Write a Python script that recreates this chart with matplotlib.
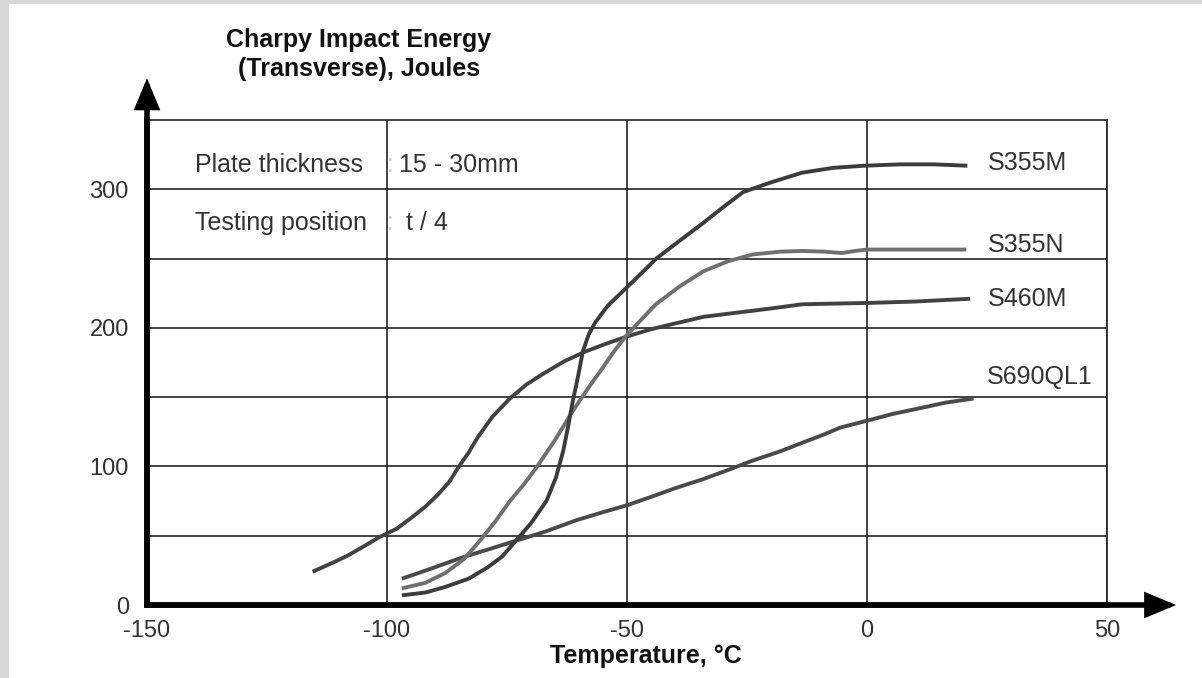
import matplotlib
matplotlib.use("Agg")
import matplotlib.pyplot as plt
from matplotlib.patches import Rectangle

plt.rcParams['font.family'] = ['Liberation Sans', 'DejaVu Sans']
plt.rcParams['axes.unicode_minus'] = False

# values (temperature degC, energy J)
s355m_t = [-96.9, -92, -87.9, -83, -79.1, -76, -73, -70, -66.8, -64.8, -63.3, -62.2, -61.3,
           -60.2, -59.2, -58, -56.6, -54, -51, -48, -43.9, -39, -34, -30, -25.8, -20, -13.5,
           -7, -0.6, 7, 14, 20.9]
s355m_e = [7, 9, 13, 19, 27, 35, 47, 59, 75, 92, 111, 130, 147, 165, 183, 195, 204, 216,
           226, 236, 250, 263, 276, 287, 298, 305, 312, 315.5, 317, 318, 318, 317]

s355n_t = [-96.9, -92, -87.9, -84, -80.5, -77.5, -74.4, -71.5, -68.9, -65, -61.3, -58, -55.1,
           -52.5, -50, -47, -44, -39, -34, -29, -23.8, -18, -13.5, -9, -5.3, -2.5, 0, 10, 20.7]
s355n_e = [12, 16, 23, 33, 47, 60, 75, 87, 99, 119, 140, 157, 171, 184, 195, 206, 217, 230,
           241, 248, 253, 255, 255.5, 255, 254, 255.5, 256.5, 256.5, 256.5]

s460m_t = [-115.5, -111, -108, -104.5, -101.6, -98, -94.9, -92, -89.3, -87, -85.2, -83, -81.1,
           -78, -74.4, -71, -67.4, -63, -58.6, -54, -49.8, -45, -40.2, -34, -27, -20, -13.5,
           -7, 0.4, 10, 21.5]
s460m_e = [24, 31, 36, 43, 49, 55, 63, 71, 80, 89, 99, 110, 121, 136, 149, 159, 167, 176, 183,
           189, 194, 199, 203, 208, 211, 214, 217, 217.5, 218, 219, 221]

s690_t = [-96.9, -91, -84.6, -79, -74.4, -67, -60.7, -55, -50, -45, -40.2, -34, -28.5, -24,
          -18, -12.8, -9, -5.6, 0, 5.5, 11, 16.3, 22.2]
s690_e = [19, 26, 34, 40, 45, 53, 61, 67, 72, 78, 84, 91, 98, 104, 111, 118, 123, 128, 133,
          138, 142, 146, 149]

grades = ['S355M', 'S355N', 'S460M', 'S690QL1']
label_pos = [(25.2, 319), (25.2, 260), (25.2, 221), (25.0, 164.5)]

x_ticks = [-150, -100, -50, 0, 50]
y_ticks = [0, 100, 200, 300]

fig = plt.figure(figsize=(12.02, 6.78), dpi=100)
fig.patch.set_facecolor('#d8d8d8')
fig.patches.append(Rectangle((9 / 1202, 0), 1, 1 - 4 / 678, transform=fig.transFigure,
                             facecolor='white', edgecolor='none', zorder=-1))

ax = fig.add_axes([147 / 1202, 73 / 678, 960 / 1202, 485 / 678])
ax.set_facecolor('white')
ax.set_xlim(-150, 50)
ax.set_ylim(0, 350)

ax.set_xticks(x_ticks)
ax.set_yticks(y_ticks)
ax.set_yticks([50, 150, 250], minor=True)
ax.grid(True, which='both', color='#222222', lw=1.2)
ax.set_axisbelow(True)
ax.tick_params(which='both', length=0)
ax.tick_params(axis='x', pad=11, labelsize=17, labelcolor='#333333')
ax.tick_params(axis='y', pad=13, labelsize=17, labelcolor='#333333')

for s in ['left', 'bottom']:
    ax.spines[s].set_linewidth(4)
    ax.spines[s].set_color('black')
    ax.spines[s].set_zorder(5)
for s in ['top', 'right']:
    ax.spines[s].set_linewidth(1.2)
    ax.spines[s].set_color('#222222')

# axis arrows
arrow = dict(arrowstyle='-|>,head_length=0.72,head_width=0.3', mutation_scale=22,
             lw=4, color='black', shrinkA=0, shrinkB=0, joinstyle='miter')
ax.annotate('', xy=(0, 1.086), xytext=(0, 0), xycoords='axes fraction',
            arrowprops=arrow, annotation_clip=False)
ax.annotate('', xy=(1.072, 0), xytext=(0, 0), xycoords='axes fraction',
            arrowprops=arrow, annotation_clip=False)

line_kw = dict(lw=2.8, solid_capstyle='butt', solid_joinstyle='round', zorder=3)
ax.plot(s460m_t, s460m_e, color='#424242', **line_kw)
ax.plot(s690_t, s690_e, color='#4a4a4a', **line_kw)
ax.plot(s355n_t, s355n_e, color='#707070', **line_kw)
ax.plot(s355m_t, s355m_e, color='#3c3c3c', **line_kw)

for g, (gx, gy) in zip(grades, label_pos):
    ax.text(gx, gy, g, fontsize=18, color='#333333', ha='left', va='center')

ax.text(-140, 317.5, 'Plate thickness', fontsize=18, color='#333333', va='center')
ax.text(-99.4, 317.5, ':', fontsize=18, color='#cccccc', va='center', ha='center')
ax.text(-97.5, 317.5, '15 - 30mm', fontsize=18, color='#333333', va='center')
ax.text(-140, 275.7, 'Testing position', fontsize=18, color='#333333', va='center')
ax.text(-99.4, 275.7, ':', fontsize=18, color='#cccccc', va='center', ha='center')
ax.text(-96, 275.7, 't / 4', fontsize=18, color='#333333', va='center')

fig.text(359 / 1202, 1 - 47 / 678, 'Charpy Impact Energy', fontsize=18, fontweight='bold',
         ha='center', va='baseline', color='#111111')
fig.text(359 / 1202, 1 - 76 / 678, '(Transverse), Joules', fontsize=18, fontweight='bold',
         ha='center', va='baseline', color='#111111')
fig.text(646 / 1202, 1 - 663 / 678, 'Temperature, °C', fontsize=18, fontweight='bold',
         ha='center', va='baseline', color='#111111')

fig.savefig('out.png', dpi=100, facecolor=fig.get_facecolor())
